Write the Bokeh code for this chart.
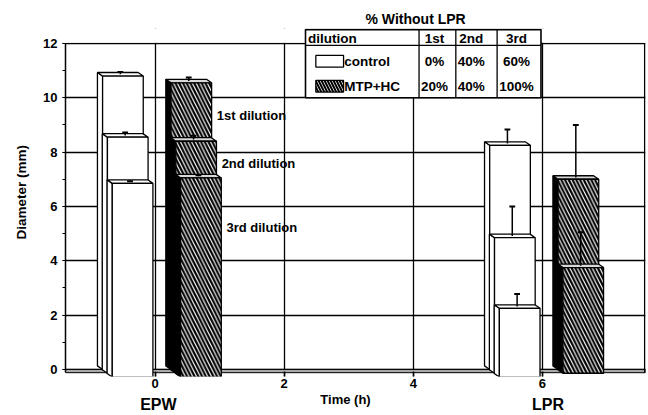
from bokeh.plotting import figure
from bokeh.models import (Range1d, ColumnDataSource, SingleIntervalTicker, LinearAxis,
                          FixedTicker, Title)
from bokeh.embed import file_html
from bokeh.resources import INLINE
from bokeh.core.properties import value

# ---------------- data ----------------
groups = ["EPW", "LPR"]
group_time = [0.0, 6.0]
dilutions = ["1st", "2nd", "3rd"]
series = ["control", "MTP+HC"]

control_epw = [10.8, 8.55, 6.85]
control_epw_err = [0.15, 0.17, 0.08]
mtp_epw = [10.55, 8.4, 7.05]
mtp_epw_err = [0.2, 0.2, 0.1]
control_lpr = [8.25, 4.85, 2.25]
control_lpr_err = [0.58, 1.15, 0.53]
mtp_lpr = [7.0, 3.75, None]
mtp_lpr_err = [2.0, 1.3, None]

pct_control = ["0%", "40%", "60%"]
pct_mtp = ["20%", "40%", "100%"]
dilution_labels = ["1st dilution", "2nd dilution", "3rd dilution"]
dilution_label_y = [9.33, 7.57, 5.23]

y_ticks_interval = 2
x_ticks_interval = 2

# ---------------- layout constants ----------------
FONT = "Liberation Sans"
X_START, X_END = -1.39, 7.6
Y_START, Y_END = -0.26, 12.55
SERIES_OFFSET = {"control": -0.5, "MTP+HC": 0.56}
BAR_W = 0.63
STEP_X, STEP_Y = 0.075, 0.14
DEPTH_X, DEPTH_Y = 0.08, 0.13
HATCH = "left_diagonal_line"
GROUP_LABEL_X = [0.05, 6.09]
TIME_LABEL_X = 2.95

values = {
    ("control", "EPW"): (control_epw, control_epw_err),
    ("MTP+HC", "EPW"): (mtp_epw, mtp_epw_err),
    ("control", "LPR"): (control_lpr, control_lpr_err),
    ("MTP+HC", "LPR"): (mtp_lpr, mtp_lpr_err),
}

p = figure(width=648, height=415, output_backend="svg", toolbar_location=None,
           x_range=Range1d(X_START, X_END), y_range=Range1d(Y_START, Y_END),
           min_border_left=62, min_border_right=3, min_border_top=28,
           min_border_bottom=36)
p.outline_line_color = None
p.background_fill_color = "white"

# title (table heading)
p.title.text = "% Without LPR"
p.title.align = "left"
p.title.offset = 300
p.title.standoff = 4
p.title.text_font = FONT
p.title.text_font_size = "14px"
p.title.text_font_style = "bold"
p.title.text_color = "black"

# grid
p.xgrid.grid_line_color = "black"
p.ygrid.grid_line_color = "black"
p.xgrid.grid_line_width = 1.3
p.ygrid.grid_line_width = 1.3

# y axis
ya = p.yaxis[0]
ya.ticker = SingleIntervalTicker(interval=y_ticks_interval, num_minor_ticks=2)
ya.bounds = (-0.1, 12)
ya.axis_line_color = "black"
ya.axis_line_width = 1.5
ya.major_tick_in = 0
ya.major_tick_out = 3
ya.minor_tick_in = 0
ya.minor_tick_out = 3
ya.major_label_standoff = 5
ya.major_label_text_font = FONT
ya.major_label_text_font_style = "bold"
ya.major_label_text_font_size = "13px"
ya.major_label_text_color = "black"

p.add_layout(Title(text="Diameter (mm)", align="left", offset=137, standoff=23,
                   text_font=FONT, text_font_size="13.5px", text_font_style="bold",
                   text_color="black"), "left")

# x axis
xa = p.xaxis[0]
xa.ticker = SingleIntervalTicker(interval=x_ticks_interval, num_minor_ticks=0)
xa.axis_line_color = None
xa.major_tick_in = 5
xa.major_tick_out = 0
xa.major_tick_line_width = 1.5
xa.minor_tick_line_color = None
xa.major_label_standoff = 2
xa.major_label_text_font = FONT
xa.major_label_text_font_style = "bold"
xa.major_label_text_font_size = "13px"
xa.major_label_text_color = "black"


def label_axis(ticks, labels, size, standoff):
    ax = LinearAxis(ticker=FixedTicker(ticks=ticks),
                    major_label_overrides=dict(zip(ticks, labels)))
    ax.axis_line_color = None
    ax.major_tick_line_color = None
    ax.minor_tick_line_color = None
    ax.major_tick_in = 0
    ax.major_tick_out = 0
    ax.minor_tick_in = 0
    ax.minor_tick_out = 0
    ax.major_label_standoff = standoff
    ax.major_label_text_font = FONT
    ax.major_label_text_font_style = "bold"
    ax.major_label_text_font_size = size
    ax.major_label_text_color = "black"
    return ax


p.add_layout(label_axis([TIME_LABEL_X], ["Time (h)"], "13px", 1), "below")
p.add_layout(label_axis(GROUP_LABEL_X, groups, "16px", -14), "below")

# floor
p.quad(left=[X_START], right=[X_END], bottom=[-0.12], top=[0.0],
       fill_color="#a8a8a8", line_color="black", line_width=1)

# white cover above the 12 line (the table sits there)
p.quad(left=[X_START], right=[X_END], bottom=[12.03], top=[Y_END],
       fill_color="white", line_color=None)

# right border line
p.segment(x0=[X_END - 0.012], y0=[-0.12], x1=[X_END - 0.012], y1=[12],
          line_color="black", line_width=1.5)

# ---------------- 3D bars ----------------
xs, ys, fills, hatches = [], [], [], []
ex, ey0, ey1 = [], [], []
for g, t0 in zip(groups, group_time):
    for s in series:
        vals, errs = values[(s, g)]
        for d in range(len(dilutions)):
            v = vals[d]
            if v is None:
                continue
            c = t0 + SERIES_OFFSET[s] + d * STEP_X
            x0, x1 = c - BAR_W / 2, c + BAR_W / 2
            b = -d * STEP_Y
            side_col = "black" if s == "MTP+HC" else "white"
            lid_col = "#d9d9d9" if s == "MTP+HC" else "white"
            xs.append([x0 - DEPTH_X, x0 - DEPTH_X, x0, x0])
            ys.append([b + DEPTH_Y, v + DEPTH_Y, v, b])
            fills.append(side_col); hatches.append(" ")
            xs.append([x0 - DEPTH_X, x1 - DEPTH_X, x1, x0])
            ys.append([v + DEPTH_Y, v + DEPTH_Y, v, v])
            fills.append(lid_col); hatches.append(" ")
            xs.append([x0, x0, x1, x1])
            ys.append([b, v, v, b])
            fills.append("white"); hatches.append(HATCH if s == "MTP+HC" else " ")
            if errs[d] is not None:
                ex.append(c - DEPTH_X / 2); ey0.append(v + DEPTH_Y / 2); ey1.append(v + errs[d])

src = ColumnDataSource(dict(xs=xs, ys=ys, fill=fills, hatch=hatches))
p.patches("xs", "ys", source=src, fill_color="fill", line_color="black", line_width=1.3,
          hatch_pattern="hatch", hatch_color="black", hatch_weight=2.2, hatch_scale=7.5)

CAP = 0.045
p.segment(x0=ex, y0=ey0, x1=ex, y1=ey1, line_color="black", line_width=1.5)
p.segment(x0=[x - CAP for x in ex], y0=ey1, x1=[x + CAP for x in ex], y1=ey1,
          line_color="black", line_width=2)

# dilution labels (to the right of the EPW MTP+HC bars)
lab_x = [group_time[0] + SERIES_OFFSET["MTP+HC"] + d * STEP_X + BAR_W / 2 + 0.08
         for d in range(len(dilutions))]
p.text(x=lab_x, y=dilution_label_y, text=dilution_labels, text_font=value(FONT),
       text_font_size="13px", text_font_style="bold", text_baseline="middle",
       text_align="left", text_color="black")

# ---------------- legend table ----------------
TL, TR, TB, TT = 2.33, 5.98, 10.0, 12.51
HEAD = 11.93
COLS = [4.09, 4.66, 5.30]
COL_TX = [4.33, 4.9, 5.6]
ROW_Y = [12.2, 11.34, 10.42]
p.quad(left=[TL], right=[TR], bottom=[TB], top=[TT], fill_color="white",
       line_color="black", line_width=1.6)
p.segment(x0=[TL], y0=[HEAD], x1=[TR], y1=[HEAD], line_color="black", line_width=1.3)
p.segment(x0=COLS, y0=[TB] * 3, x1=COLS, y1=[TT] * 3, line_color="black", line_width=1.3)

p.quad(left=[2.49], right=[2.92], bottom=[11.13], top=[11.56], fill_color="white",
       line_color="black", line_width=1.3)
p.quad(left=[2.49], right=[2.92], bottom=[10.21], top=[10.64], fill_color="white",
       line_color="black", line_width=1.3, hatch_pattern=HATCH, hatch_color="black",
       hatch_weight=2.0, hatch_scale=6)

tf = dict(text_font=value(FONT), text_font_size="13.5px", text_font_style="bold",
          text_baseline="middle", text_color="black")
p.text(x=[2.37], y=[ROW_Y[0]], text=["dilution"], text_align="left", **tf)
p.text(x=COL_TX, y=[ROW_Y[0]] * 3, text=dilutions, text_align="center", **tf)
p.text(x=[2.93, 2.93], y=[ROW_Y[1], ROW_Y[2]], text=series, text_align="left", **tf)
p.text(x=COL_TX, y=[ROW_Y[1]] * 3, text=pct_control, text_align="center", **tf)
p.text(x=COL_TX, y=[ROW_Y[2]] * 3, text=pct_mtp, text_align="center", **tf)

open("out.html", "w").write(file_html(p, INLINE))
